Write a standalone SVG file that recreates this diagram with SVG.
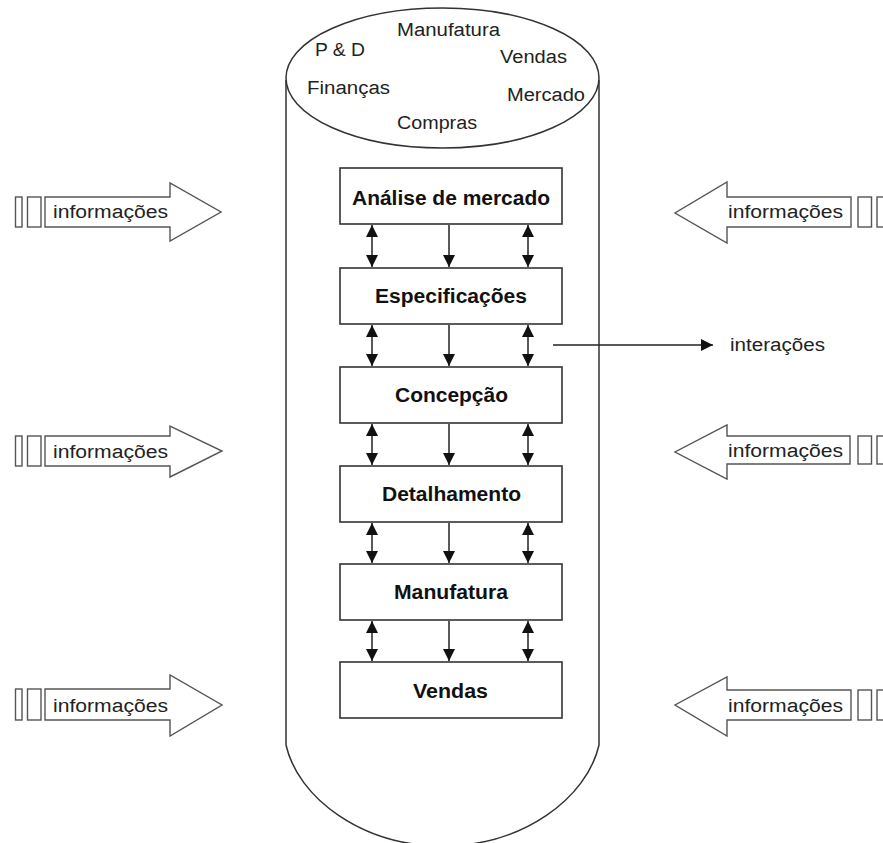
<svg xmlns="http://www.w3.org/2000/svg" width="883" height="843" viewBox="0 0 883 843">
<style>
.cyl{fill:none;stroke:#333;stroke-width:1.5}
.box{fill:#fff;stroke:#333;stroke-width:1.6}
.bt{font-family:"Liberation Sans",Arial,sans-serif;font-weight:bold;font-size:20px;fill:#111}
.t{font-family:"Liberation Sans",Arial,sans-serif;font-size:18px;fill:#222}
.info{fill:#fff;stroke:#555;stroke-width:1.4}
.con{stroke:#222;stroke-width:1.5;fill:none}
</style>
<defs>
<marker id="ah" markerWidth="14" markerHeight="14" viewBox="0 0 14 14" refX="12" refY="7" orient="auto-start-reverse" markerUnits="userSpaceOnUse">
<path d="M0,1 L12,7 L0,13 Z" fill="#111"/>
</marker>
</defs>
<rect width="883" height="843" fill="#fff"/>
<g id="cylinder">
<path class="cyl" d="M286,80 L286,745 C298,798 362,846 442.5,846 C523,846 587,798 599,745 L599,80"/>
<ellipse class="cyl" cx="442.5" cy="78" rx="156.5" ry="70" fill="#fff"/>
<text class="t" x="315" y="56" textLength="50" lengthAdjust="spacingAndGlyphs">P &amp; D</text>
<text class="t" x="397" y="36" textLength="103" lengthAdjust="spacingAndGlyphs">Manufatura</text>
<text class="t" x="500" y="63" textLength="67" lengthAdjust="spacingAndGlyphs">Vendas</text>
<text class="t" x="307" y="94" textLength="83" lengthAdjust="spacingAndGlyphs">Finanças</text>
<text class="t" x="507" y="101" textLength="78" lengthAdjust="spacingAndGlyphs">Mercado</text>
<text class="t" x="397" y="129" textLength="80" lengthAdjust="spacingAndGlyphs">Compras</text>
</g>
<g id="connectors">
<line class="con" x1="372" y1="225" x2="372" y2="267" marker-start="url(#ah)" marker-end="url(#ah)"/>
<line class="con" x1="449" y1="225" x2="449" y2="267" marker-end="url(#ah)"/>
<line class="con" x1="528" y1="225" x2="528" y2="267" marker-start="url(#ah)" marker-end="url(#ah)"/>
<line class="con" x1="372" y1="325" x2="372" y2="366" marker-start="url(#ah)" marker-end="url(#ah)"/>
<line class="con" x1="449" y1="325" x2="449" y2="366" marker-end="url(#ah)"/>
<line class="con" x1="528" y1="325" x2="528" y2="366" marker-start="url(#ah)" marker-end="url(#ah)"/>
<line class="con" x1="372" y1="424" x2="372" y2="465" marker-start="url(#ah)" marker-end="url(#ah)"/>
<line class="con" x1="449" y1="424" x2="449" y2="465" marker-end="url(#ah)"/>
<line class="con" x1="528" y1="424" x2="528" y2="465" marker-start="url(#ah)" marker-end="url(#ah)"/>
<line class="con" x1="372" y1="523" x2="372" y2="563" marker-start="url(#ah)" marker-end="url(#ah)"/>
<line class="con" x1="449" y1="523" x2="449" y2="563" marker-end="url(#ah)"/>
<line class="con" x1="528" y1="523" x2="528" y2="563" marker-start="url(#ah)" marker-end="url(#ah)"/>
<line class="con" x1="372" y1="621" x2="372" y2="661" marker-start="url(#ah)" marker-end="url(#ah)"/>
<line class="con" x1="449" y1="621" x2="449" y2="661" marker-end="url(#ah)"/>
<line class="con" x1="528" y1="621" x2="528" y2="661" marker-start="url(#ah)" marker-end="url(#ah)"/>
<line class="con" x1="553" y1="345" x2="713" y2="345" marker-end="url(#ah)"/>
<text class="t" x="730" y="351" textLength="95" lengthAdjust="spacingAndGlyphs">interações</text>
</g>
<g id="n1"><rect class="box" x="340" y="168" width="222" height="56"/><text class="bt" x="352" y="205" textLength="198" lengthAdjust="spacingAndGlyphs">Análise de mercado</text></g>
<g id="n2"><rect class="box" x="340" y="268" width="222" height="56"/><text class="bt" x="375" y="303" textLength="152" lengthAdjust="spacingAndGlyphs">Especificações</text></g>
<g id="n3"><rect class="box" x="340" y="367" width="222" height="56"/><text class="bt" x="395" y="402" textLength="113" lengthAdjust="spacingAndGlyphs">Concepção</text></g>
<g id="n4"><rect class="box" x="340" y="466" width="222" height="56"/><text class="bt" x="382" y="501" textLength="139" lengthAdjust="spacingAndGlyphs">Detalhamento</text></g>
<g id="n5"><rect class="box" x="340" y="564" width="222" height="56"/><text class="bt" x="394" y="599" textLength="114" lengthAdjust="spacingAndGlyphs">Manufatura</text></g>
<g id="n6"><rect class="box" x="340" y="662" width="222" height="56"/><text class="bt" x="413" y="698" textLength="75" lengthAdjust="spacingAndGlyphs">Vendas</text></g>
<g id="infoL1">
<rect class="info" x="15.5" y="197" width="6.5" height="30"/><rect class="info" x="27.5" y="197" width="13.5" height="30"/>
<path class="info" d="M45,197 L170,197 L170,183 L221,212 L170,241 L170,227 L45,227 Z"/>
<text class="t" x="53" y="218" textLength="115" lengthAdjust="spacingAndGlyphs">informações</text>
</g>
<g id="infoL2">
<rect class="info" x="15.5" y="436" width="6.5" height="30"/><rect class="info" x="27.5" y="436" width="13.5" height="30"/>
<path class="info" d="M45,436 L170,436 L170,426 L222,451 L170,477 L170,466 L45,466 Z"/>
<text class="t" x="53" y="458" textLength="115" lengthAdjust="spacingAndGlyphs">informações</text>
</g>
<g id="infoL3">
<rect class="info" x="15.5" y="689" width="6.5" height="31"/><rect class="info" x="27.5" y="689" width="13.5" height="31"/>
<path class="info" d="M45,689 L170,689 L170,675 L222,705 L170,736 L170,720 L45,720 Z"/>
<text class="t" x="53" y="712" textLength="115" lengthAdjust="spacingAndGlyphs">informações</text>
</g>
<g id="infoR1">
<rect class="info" x="858" y="197" width="13.5" height="30"/><rect class="info" x="877" y="197" width="7" height="30"/>
<path class="info" d="M851,197 L727,197 L727,182 L675,213 L727,243 L727,227 L851,227 Z"/>
<text class="t" x="728" y="218" textLength="115" lengthAdjust="spacingAndGlyphs">informações</text>
</g>
<g id="infoR2">
<rect class="info" x="858" y="436" width="13.5" height="28"/><rect class="info" x="877" y="436" width="7" height="28"/>
<path class="info" d="M850,436 L727,436 L727,425 L675,452 L727,479 L727,464 L850,464 Z"/>
<text class="t" x="728" y="457" textLength="115" lengthAdjust="spacingAndGlyphs">informações</text>
</g>
<g id="infoR3">
<rect class="info" x="858" y="690" width="13.5" height="30"/><rect class="info" x="877" y="690" width="7" height="30"/>
<path class="info" d="M851,690 L727,690 L727,677 L675,705 L727,736 L727,720 L851,720 Z"/>
<text class="t" x="728" y="712" textLength="115" lengthAdjust="spacingAndGlyphs">informações</text>
</g>
</svg>
